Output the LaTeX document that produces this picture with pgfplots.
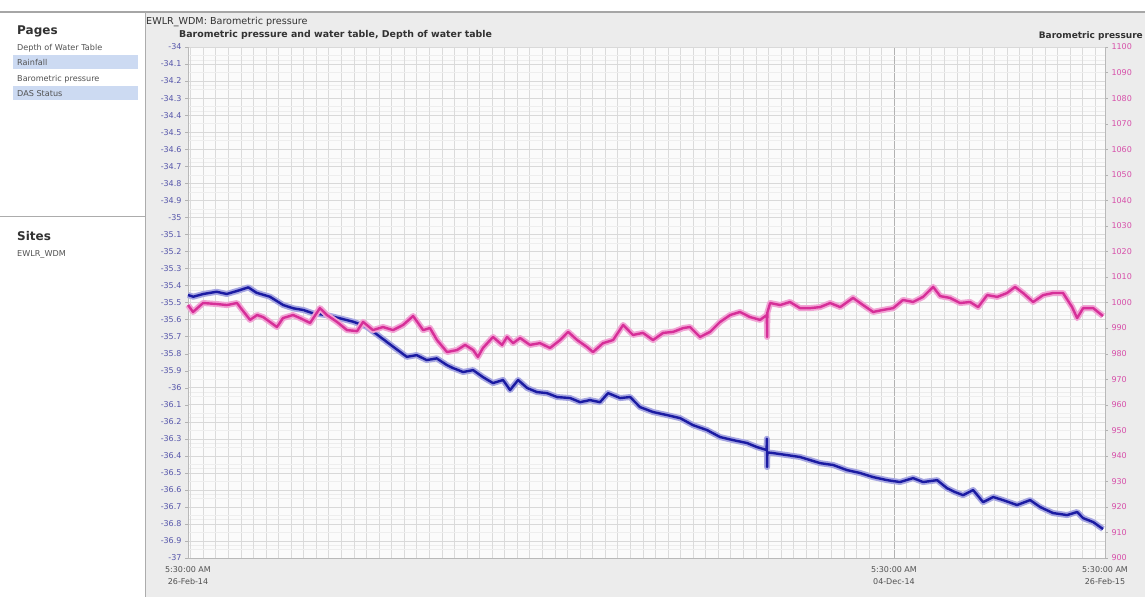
\documentclass[border=0pt]{standalone}
\usepackage{pgfplots}
\usepackage{pgfplotstable}
\pgfplotsset{compat=1.18}
\usepackage{fontspec}
\setmainfont{DejaVu Sans}
\definecolor{bluel}{RGB}{30,30,180}
\definecolor{pinkl}{RGB}{225,50,160}
\definecolor{panelbg}{RGB}{236,236,236}
\definecolor{selbg}{RGB}{204,218,242}
\definecolor{lefttick}{RGB}{85,85,170}
\definecolor{righttick}{RGB}{215,80,170}
\definecolor{txt}{RGB}{50,50,50}
\newcommand\fs[1]{\fontsize{#1}{#1}\selectfont}

\pgfplotstableread{
d v
0 -35.456
2.1 -35.466
6.1 -35.450
11.4 -35.437
15.4 -35.450
20.7 -35.427
24.0 -35.411
27.3 -35.443
32.6 -35.466
37.9 -35.515
41.9 -35.534
45.9 -35.544
49.9 -35.564
55.2 -35.574
60.5 -35.593
65.8 -35.613
71.1 -35.642
76.4 -35.701
81.7 -35.760
87.1 -35.819
91.0 -35.809
95.0 -35.838
99.0 -35.828
103.0 -35.867
105.5 -35.885
109.5 -35.908
113.5 -35.897
117.4 -35.938
121.4 -35.973
125.4 -35.955
128.2 -36.014
131.4 -35.955
135.0 -36.002
138.9 -36.026
142.9 -36.032
146.9 -36.055
152.1 -36.061
156.1 -36.085
160.0 -36.073
164.0 -36.085
167.2 -36.032
172.0 -36.061
176.0 -36.055
179.9 -36.114
185.1 -36.143
190.7 -36.161
195.9 -36.179
201.0 -36.220
206.6 -36.249
211.8 -36.290
217.0 -36.308
222.5 -36.325
226.5 -36.349
230.3 -36.366
230.4 -36.300
230.5 -36.466
230.6 -36.380
232.9 -36.384
238.5 -36.396
243.6 -36.407
247.6 -36.425
251.6 -36.443
256.8 -36.454
262.3 -36.484
267.5 -36.501
272.7 -36.525
278.3 -36.543
283.4 -36.554
288.6 -36.531
292.6 -36.554
298.2 -36.543
302.1 -36.590
305.3 -36.613
308.5 -36.631
312.5 -36.601
316.5 -36.672
320.5 -36.642
324.4 -36.660
330.0 -36.689
335.2 -36.660
339.2 -36.701
344.3 -36.736
349.9 -36.748
353.9 -36.730
356.3 -36.766
360.3 -36.789
364.2 -36.830
}\bluedata

\pgfplotstableread{
d p
0 999.0
2.0 996.3
6.0 999.8
11.5 999.4
15.5 999.0
19.5 999.8
21.9 996.7
24.7 993.2
27.5 995.1
29.9 994.3
32.6 992.4
35.4 990.4
37.8 993.9
41.8 995.1
44.6 993.9
48.6 992.0
52.5 997.8
55.3 995.1
59.3 992.4
63.3 989.2
67.3 988.8
69.7 992.4
73.6 989.2
77.6 990.4
81.6 989.2
85.6 991.2
89.6 994.7
93.6 989.2
96.3 990.0
99.1 985.3
103.1 980.6
107.1 981.4
110.3 983.4
113.5 981.4
115.4 978.7
117.4 982.2
121.4 986.5
125.0 983.4
127.0 986.5
129.4 984.1
132.2 986.1
136.1 983.4
140.1 984.1
144.1 982.2
148.1 985.3
151.3 988.5
154.9 985.3
158.8 982.6
161.2 980.6
165.2 984.1
169.2 985.3
173.2 991.2
177.1 987.3
181.1 988.1
185.1 985.3
189.1 988.1
193.1 988.5
197.1 990.0
199.8 990.4
203.8 986.5
207.8 988.5
211.8 992.4
215.8 995.1
219.7 996.3
223.7 994.3
227.7 993.2
230.4 995.1
230.5 986.5
230.6 996.0
231.7 999.8
235.7 999.0
239.6 1000.2
243.6 997.8
247.6 997.8
251.6 998.2
255.6 999.8
259.6 998.2
264.7 1001.8
268.7 999.0
272.7 996.3
276.7 997.1
280.7 997.8
284.6 1001.0
288.6 1000.2
292.6 1002.2
296.6 1006.1
299.4 1002.5
303.3 1001.8
307.3 999.8
311.3 1000.2
314.5 998.2
318.1 1002.9
322.1 1002.2
326.0 1003.7
329.2 1006.1
332.4 1003.7
336.4 1000.2
340.4 1002.9
344.3 1003.7
348.3 1003.7
351.9 998.2
353.9 993.9
356.3 997.8
360.3 997.8
364.2 994.7
}\pinkdata

\pgfplotsset{
  base/.style={scale only axis, width=917pt, height=511pt,
    at={(188pt,-558pt)}, anchor=south west, xmin=0, xmax=365,
    /pgf/number format/assume math mode=true,
    /pgf/number format/fixed, /pgf/number format/precision=1,
    /pgf/number format/set thousands separator={},
    tick align=outside, major tick length=3pt, minor tick length=0pt,
    clip=false},
}

\begin{document}
\begin{tikzpicture}[x=1pt,y=1pt]
\useasboundingbox (0,0) rectangle (1145,-597);
\fill[white] (0,0) rectangle (1145,-597);
\fill[panelbg] (145,-12) rectangle (1145,-597);
\fill[selbg] (13,-55) rectangle (138,-69);
\fill[selbg] (13,-86) rectangle (138,-100);
\draw[gray!70, line width=1.2pt] (0,-12) -- (1145,-12);
\draw[gray!65] (145,-12) -- (145,-597);
\draw[gray!65] (0,-216) -- (145,-216);
\fill[white!97!gray] (188,-47) rectangle (1105,-558);

\node[anchor=base west, font=\bfseries\fs{12}, text=txt, inner sep=0] at (17,-34) {Pages};
\node[anchor=base west, font=\fs{8.1}, text=txt!85, inner sep=0] at (17,-50) {Depth of Water Table};
\node[anchor=base west, font=\fs{8.1}, text=txt!85, inner sep=0] at (17,-65) {Rainfall};
\node[anchor=base west, font=\fs{8.1}, text=txt!85, inner sep=0] at (17,-81) {Barometric pressure};
\node[anchor=base west, font=\fs{8.1}, text=txt!85, inner sep=0] at (17,-96) {DAS Status};
\node[anchor=base west, font=\bfseries\fs{12}, text=txt, inner sep=0] at (17,-240) {Sites};
\node[anchor=base west, font=\fs{8.1}, text=txt!85, inner sep=0] at (17,-256) {EWLR\_WDM};
\node[anchor=base west, font=\fs{9.6}, text=txt, inner sep=0] at (146,-24) {EWLR\_WDM: Barometric pressure};
\node[anchor=base west, font=\bfseries\fs{9.4}, text=txt, inner sep=0] at (179,-37) {Barometric pressure and water table, Depth of water table};
\node[anchor=base east, font=\bfseries\fs{9}, text=txt, inner sep=0] at (1143,-38) {Barometric pressure};

% right-axis grid and tick labels
\begin{axis}[base, ymin=900, ymax=1100, ytick={900,910,...,1100}, minor y tick num=1,
  axis x line=none, axis y line*=right, y axis line style={gray!50},
  ymajorgrids, yminorgrids,
  major grid style={gray!32, line width=0.45pt}, minor grid style={gray!14, line width=0.4pt},
  ytick style={gray!60},
  yticklabel style={font=\fs{8}, text=righttick, /pgf/number format/precision=0},
  xtick=\empty]
\end{axis}

% left axis with blue series
\begin{axis}[base, ymin=-37, ymax=-34, ytick={-37,-36.9,...,-33.95}, minor y tick num=1,
  axis lines*=left, axis line style={gray!55},
  ymajorgrids, yminorgrids, xmajorgrids, xminorgrids,
  major grid style={gray!30, line width=0.45pt}, minor grid style={gray!13, line width=0.4pt},
  major x grid style={gray!60, line width=0.5pt}, minor x grid style={gray!28, line width=0.4pt},
  ytick style={gray!60}, xtick style={draw=none},
  yticklabel style={font=\fs{8}, text=lefttick},
  xtick={0,281,365}, minor xtick={1,6,...,361},
  xticklabels={{5:30:00 AM\\26-Feb-14},{5:30:00 AM\\04-Dec-14},{5:30:00 AM\\26-Feb-15}},
  xticklabel style={font=\fontsize{8}{12}\selectfont, text=txt!85, align=center, yshift=-2pt}]
\addplot[bluel!40!white, line width=6pt, line join=round, no marks] table[x=d, y=v] {\bluedata};
\addplot[bluel!90!black, line width=2.4pt, line join=round, no marks] table[x=d, y=v] {\bluedata};
\end{axis}

% right axis pink series
\begin{axis}[base, ymin=900, ymax=1100, hide axis]
\addplot[pinkl!45!white, line width=6pt, line join=round, no marks] table[x=d, y=p] {\pinkdata};
\addplot[pinkl!95!black, line width=2.4pt, line join=round, no marks] table[x=d, y=p] {\pinkdata};
\end{axis}
\draw[gray!55] (1105,-47) -- (1105,-558);
\end{tikzpicture}
\end{document}
